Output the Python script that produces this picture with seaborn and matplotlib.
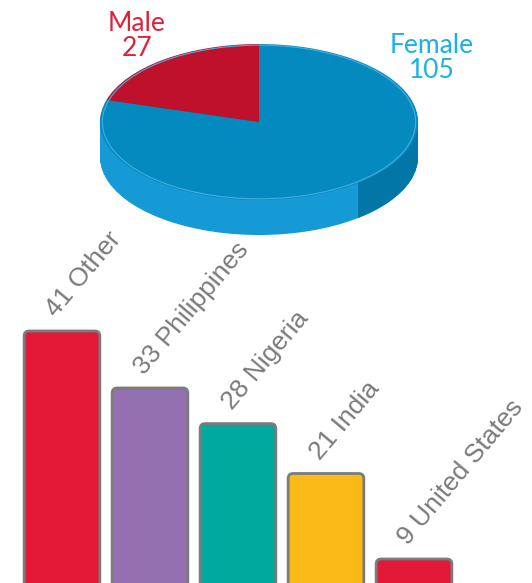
# plot.py
# Gender pie (pseudo 3D) on top, country bars with slanted labels below

import numpy as np
import matplotlib
matplotlib.use("Agg")
import matplotlib.pyplot as plt
from matplotlib.patches import FancyBboxPatch, Polygon, Circle
import seaborn as sns
import pandas as pd

# Data
genders = ["Male", "Female"]
gender_counts = [27, 105]
countries = ["Other", "Philippines", "Nigeria", "India", "United States"]
country_counts = [41, 33, 28, 21, 9]

# Colours
pie_top = ["#c0112c", "#058ac0"]
side_light = ["#8e0c20", "#169ad6"]
side_dark = ["#8e0c20", "#0277a7"]
label_cols = ["#e0203a", "#1ab0e8"]
bar_cols = ["#e31937", "#9370b0", "#00a99d", "#fbb917", "#e31937"]

sns.set_theme(style="white")
plt.rcParams["font.family"] = ["Liberation Sans", "DejaVu Sans"]

W, H = 532, 583
fig = plt.figure(figsize=(W / 100, H / 100), dpi=100)

# ---- pie (top) ----
pie_h = 250
ax_p = fig.add_axes([0, 1 - pie_h / H, 1, pie_h / H])
cx, cy, a, b = 259, 122, 159, 78   # ellipse centre / semi axes in px
depth = 35 / b

# side of the disc: stack of shifted pies, darker on the right
shade = Polygon([(0.62, -5), (5, -5), (5, 5), (0.62, 5)],
                transform=ax_p.transData)
for d in np.linspace(depth, 0.02, 40):
    ax_p.pie(gender_counts, colors=side_light, startangle=90, counterclock=True,
             center=(0, -d), wedgeprops=dict(linewidth=0))
for d in np.linspace(depth, 0.02, 40):
    wedges, _ = ax_p.pie(gender_counts, colors=side_dark, startangle=90,
                         counterclock=True, center=(0, -d),
                         wedgeprops=dict(linewidth=0))
    for w in wedges:
        w.set_clip_on(True)   # pie turns clipping off
        w.set_clip_path(shade)
# top face
ax_p.pie(gender_counts, colors=pie_top, startangle=90, counterclock=True,
         center=(0, 0), wedgeprops=dict(linewidth=0))
ax_p.add_patch(Circle((0, 0), 0.985, fill=False, edgecolor="#45ade0",
                      linewidth=0.8))
ax_p.set_aspect("auto")
ax_p.set_xlim(-cx / a, (W - cx) / a)
ax_p.set_ylim(-(pie_h - cy) / b, cy / b)
ax_p.axis("off")

# pie labels
label_pos = [(137, 36), (432, 58)]
for g, n, c, (px, py) in zip(genders, gender_counts, label_cols, label_pos):
    fig.text(px / W, 1 - py / H, f"{g}\n{n}", color=c, fontsize=19,
             family=["Lato", "DejaVu Sans"], fontweight="normal",
             ha="center", va="center", linespacing=1.0)

# ---- bars (bottom) ----
bar_top_px = 230
ax_b = fig.add_axes([0, 0, 1, (H - bar_top_px) / H])
df = pd.DataFrame({"country": countries, "count": country_counts})
sns.barplot(data=df, x="country", y="count", hue="country", palette=bar_cols,
            saturation=1, legend=False, width=0.86, ax=ax_b)

# value scale: 41 -> 331 px, 9 -> 559 px
px_per_unit = (559 - 331) / (41 - 9)
zero_px = 559 + 9 * px_per_unit
ax_b.set_ylim((zero_px - H) / px_per_unit, (zero_px - bar_top_px) / px_per_unit)
ax_b.set_xlim(-62 / 88, (W - 62) / 88)
ax_b.axis("off")

# rounded bars with grey outline
x_per_px = 1 / 88
y_per_px = 1 / px_per_unit
r = 5
for p in list(ax_b.patches):
    x0, y0, w, h = p.get_x(), p.get_y(), p.get_width(), p.get_height()
    fc = p.get_facecolor()
    p.remove()
    fb = FancyBboxPatch((x0, y0), w, h,
                        boxstyle=f"round,pad=0,rounding_size={r * x_per_px}",
                        mutation_aspect=y_per_px / x_per_px,
                        facecolor=fc, edgecolor="#7b7b7b", linewidth=2.0,
                        clip_on=False)
    ax_b.add_patch(fb)

for i, (name, n) in enumerate(zip(countries, country_counts)):
    ax_b.annotate(f"{n} {name}", xy=(i, n), xytext=(-4, 9),
                  textcoords="offset points", rotation=50,
                  rotation_mode="anchor", ha="left", va="baseline",
                  fontsize=19, color="#7a7a7a", annotation_clip=False)

fig.savefig("out.png", dpi=100)
